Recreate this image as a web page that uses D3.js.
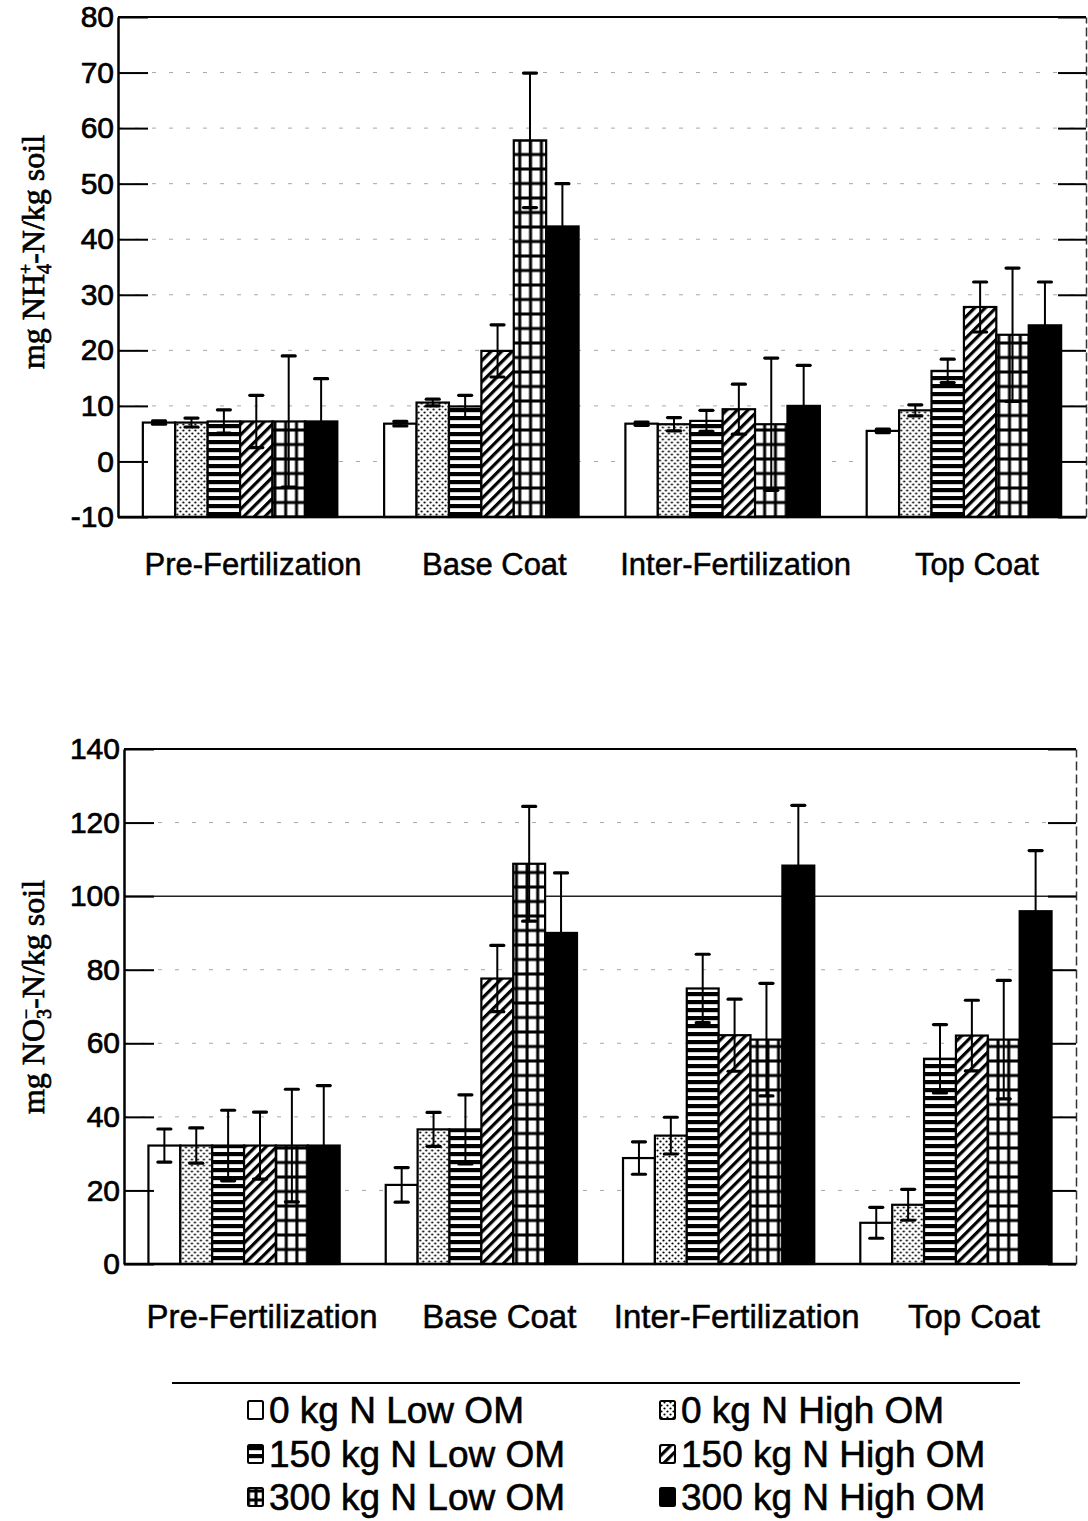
<!DOCTYPE html>
<html>
<head>
<meta charset="utf-8">
<script src="https://cdn.jsdelivr.net/npm/d3@7"></script>
<style>
  html, body { margin: 0; padding: 0; background: #fff; }
  svg { display: block; }
  text { font-family: "Liberation Sans", Arial, Helvetica, sans-serif; fill: #000; }
</style>
</head>
<body>
<svg id="chart" width="1088" height="1521"></svg>
<script>
// ---------------- DATA ----------------
const categories = ["Pre-Fertilization", "Base Coat", "Inter-Fertilization", "Top Coat"];
const seriesNames = ["0 kg N Low OM", "0 kg N High OM", "150 kg N Low OM",
                     "150 kg N High OM", "300 kg N Low OM", "300 kg N High OM"];

// NH4+-N (mg/kg soil): rows = categories, cols = series
const nh4Values = [
  [7.0, 7.0, 7.2, 7.2, 7.2, 7.2],
  [6.8, 10.6, 9.9, 19.9, 57.8, 42.3],
  [6.8, 6.7, 7.3, 9.4, 6.7, 10.0],
  [5.5, 9.2, 16.3, 27.8, 22.8, 24.5]
];
const nh4Errors = [
  [0.3, 0.8, 2.1, 4.7, 11.8, 7.7],
  [0.4, 0.6, 2.0, 4.7, 12.1, 7.7],
  [0.3, 1.2, 1.9, 4.5, 11.9, 7.3],
  [0.3, 1.0, 2.1, 4.5, 12.0, 7.8]
];
const nh4Ticks = [-10, 0, 10, 20, 30, 40, 50, 60, 70, 80];

// NO3--N (mg/kg soil)
const no3Values = [
  [32.2, 32.2, 32.2, 32.2, 32.2, 32.2],
  [21.5, 36.6, 36.6, 77.6, 108.8, 90.0],
  [28.8, 34.9, 74.9, 62.2, 61.0, 108.3],
  [11.2, 16.1, 55.8, 62.1, 61.0, 95.9]
];
const no3Errors = [
  [4.5, 4.8, 9.6, 9.1, 15.3, 16.3],
  [4.7, 4.6, 9.4, 9.0, 15.6, 16.3],
  [4.4, 5.0, 9.3, 9.8, 15.3, 16.4],
  [4.2, 4.2, 9.3, 9.6, 16.1, 16.5]
];
const no3Ticks = [0, 20, 40, 60, 80, 100, 120, 140];

// ---------------- DRAW ----------------
const svg = d3.select("#chart");
const defs = svg.append("defs");

const dots = defs.append("pattern").attr("id", "p-dots")
  .attr("patternUnits", "userSpaceOnUse").attr("width", 6).attr("height", 6);
dots.append("rect").attr("width", 6).attr("height", 6).attr("fill", "#fff");
dots.append("circle").attr("cx", 1.5).attr("cy", 1.5).attr("r", 1.1).attr("fill", "#000");
dots.append("circle").attr("cx", 4.5).attr("cy", 4.5).attr("r", 1.1).attr("fill", "#000");

const hor = defs.append("pattern").attr("id", "p-hor")
  .attr("patternUnits", "userSpaceOnUse").attr("width", 8).attr("height", 8);
hor.append("rect").attr("width", 8).attr("height", 8).attr("fill", "#fff");
hor.append("rect").attr("y", 0).attr("width", 8).attr("height", 4.2).attr("fill", "#000");

const diag = defs.append("pattern").attr("id", "p-diag")
  .attr("patternUnits", "userSpaceOnUse").attr("width", 7.5).attr("height", 7.5)
  .attr("patternTransform", "rotate(45)");
diag.append("rect").attr("width", 7.5).attr("height", 7.5).attr("fill", "#fff");
diag.append("rect").attr("x", 0).attr("width", 3.2).attr("height", 7.5).attr("fill", "#000");

function gridPattern(id, x0, y0, w, h) {
  const p = defs.append("pattern").attr("id", id)
    .attr("patternUnits", "userSpaceOnUse").attr("x", x0).attr("y", y0)
    .attr("width", w).attr("height", h);
  p.append("rect").attr("width", w).attr("height", h).attr("fill", "#000");
  p.append("rect").attr("x", 1.5).attr("y", 1.5).attr("width", w - 3).attr("height", h - 3).attr("fill", "#fff");
  return "url(#" + id + ")";
}

function fillFor(i, gridUrl) {
  return ["#fff", "url(#p-dots)", "url(#p-hor)", "url(#p-diag)", gridUrl, "#000"][i];
}

function drawChart(cfg) {
  const { id, left, right, top, bottom, values, errors, ticks, yDomain, tickFont,
          labelFont, labelY, labelShift, titleX, titleY, titleSize, titleParts, solidGrid } = cfg;
  const g = svg.append("g").attr("id", id);

  const x0 = d3.scaleBand().domain(categories).range([left, right])
    .paddingInner(0.194).paddingOuter(0.103);
  const x1 = d3.scaleBand().domain(d3.range(seriesNames.length)).range([0, x0.bandwidth()]).padding(0);
  const y = d3.scaleLinear().domain(yDomain).range([bottom, top]);

  // gridlines
  g.append("g").selectAll("line").data(ticks.filter(t => t !== yDomain[0] && t !== yDomain[1]))
    .join("line")
    .attr("x1", left).attr("x2", right)
    .attr("y1", d => y(d)).attr("y2", d => y(d))
    .attr("stroke", d => d === solidGrid ? "#222" : "#a8a8a8")
    .attr("stroke-width", d => d === solidGrid ? 1.5 : 1)
    .attr("stroke-dasharray", d => d === solidGrid ? null : "4,13");

  const gridUrls = categories.map((c, ci) =>
    gridPattern(id + "-grid-" + ci, x0(c) + x1(4), bottom, x1.bandwidth() / 3, 14.5));

  const groups = g.append("g").selectAll("g").data(categories).join("g")
    .attr("transform", d => `translate(${x0(d)},0)`);

  groups.selectAll("rect")
    .data((d, ci) => values[ci].map((v, si) => ({ v, si, ci })))
    .join("rect")
    .attr("x", d => x1(d.si))
    .attr("y", d => y(Math.max(0, d.v)))
    .attr("width", x1.bandwidth())
    .attr("height", d => y(yDomain[0]) - y(Math.max(0, d.v)))
    .attr("fill", d => fillFor(d.si, gridUrls[d.ci]))
    .attr("stroke", "#000").attr("stroke-width", 2.2);

  const eb = groups.selectAll("g.eb")
    .data((d, ci) => values[ci].map((v, si) => ({ v, e: errors[ci][si], si })))
    .join("g").attr("class", "eb")
    .attr("transform", d => `translate(${x1(d.si) + x1.bandwidth() / 2},0)`);
  eb.append("line")
    .attr("y1", d => y(d.v - d.e)).attr("y2", d => y(d.v + d.e))
    .attr("stroke", "#000").attr("stroke-width", 2);
  eb.append("line").attr("x1", -6.5).attr("x2", 6.5)
    .attr("y1", d => y(d.v + d.e)).attr("y2", d => y(d.v + d.e))
    .attr("stroke", "#000").attr("stroke-width", 3.2).attr("stroke-linecap", "round");
  eb.append("line").attr("x1", -6.5).attr("x2", 6.5)
    .attr("y1", d => y(d.v - d.e)).attr("y2", d => y(d.v - d.e))
    .attr("stroke", "#000").attr("stroke-width", 3.2).attr("stroke-linecap", "round");

  g.append("line").attr("x1", left).attr("x2", right).attr("y1", top).attr("y2", top)
    .attr("stroke", "#000").attr("stroke-width", 2);
  g.append("line").attr("x1", left).attr("x2", right).attr("y1", bottom).attr("y2", bottom)
    .attr("stroke", "#000").attr("stroke-width", 2.5);

  const ra = g.append("g").attr("transform", `translate(${right},0)`)
    .call(d3.axisRight(y).tickValues(ticks).tickSizeInner(-28).tickSizeOuter(0).tickFormat(""));
  ra.select(".domain").attr("stroke", "#333").attr("stroke-width", 1.5).attr("stroke-dasharray", "9,4");
  ra.selectAll(".tick line").attr("stroke", "#000").attr("stroke-width", 2);

  const la = g.append("g").attr("transform", `translate(${left},0)`)
    .call(d3.axisLeft(y).tickValues(ticks).tickSizeInner(-30).tickSizeOuter(0).tickPadding(4)
      .tickFormat(d => String(d)));
  la.select(".domain").attr("stroke", "#000").attr("stroke-width", 2.5);
  la.selectAll(".tick line").attr("stroke", "#000").attr("stroke-width", 2);
  la.selectAll(".tick text").attr("font-size", tickFont).attr("font-family", "'Liberation Sans', Arial, sans-serif")
    .attr("fill", "#000").attr("stroke", "#000").attr("stroke-width", 0.7);

  g.append("g").selectAll("text").data(categories).join("text")
    .attr("x", d => x0(d) + x0.bandwidth() / 2 + labelShift)
    .attr("y", labelY)
    .attr("text-anchor", "middle")
    .attr("font-size", labelFont)
    .attr("stroke", "#000").attr("stroke-width", 0.5)
    .text(d => d);

  const t = g.append("text")
    .attr("transform", `translate(${titleX},${titleY}) rotate(-90)`)
    .attr("text-anchor", "middle")
    .attr("font-size", titleSize)
    .style("font-family", "'Liberation Serif', 'Times New Roman', serif")
    .attr("stroke", "#000").attr("stroke-width", 0.7);
  titleParts.forEach(p => {
    const ts = t.append("tspan").text(p.t);
    if (p.size) ts.attr("font-size", p.size);
    if (p.dy) ts.attr("dy", p.dy);
    if (p.dx) ts.attr("dx", p.dx);
  });
}

drawChart({
  id: "nh4", left: 118, right: 1086, top: 17, bottom: 517,
  values: nh4Values, errors: nh4Errors, ticks: nh4Ticks, yDomain: [-10, 80],
  tickFont: 30, labelFont: 31, labelY: 575, labelShift: 13, titleX: 44, titleY: 252, titleSize: 32,
  titleParts: [
    { t: "mg NH" },
    { t: "4", size: 20, dy: 7 },
    { t: "+", size: 18, dy: -19, dx: -10 },
    { t: "-N/kg soil", dy: 12 }
  ],
  solidGrid: null
});

drawChart({
  id: "no3", left: 124, right: 1076, top: 749, bottom: 1264,
  values: no3Values, errors: no3Errors, ticks: no3Ticks, yDomain: [0, 140],
  tickFont: 30, labelFont: 33, labelY: 1328, labelShift: 18, titleX: 44, titleY: 997, titleSize: 32,
  titleParts: [
    { t: "mg NO" },
    { t: "3", size: 20, dy: 7 },
    { t: "−", size: 18, dy: -19, dx: -10 },
    { t: "-N/kg soil", dy: 12 }
  ],
  solidGrid: 100
});

// ---------------- LEGEND ----------------
const leg = svg.append("g").attr("id", "legend");
leg.append("line").attr("x1", 172).attr("x2", 1020).attr("y1", 1383).attr("y2", 1383)
  .attr("stroke", "#000").attr("stroke-width", 2);

const legCols = [248, 660];
const legRows = [1410, 1454, 1497];
const legGridUrl = gridPattern("leg-grid", 248, legRows[2] - 9, 7.5, 9);
const legItems = seriesNames.map((name, i) => ({
  name, i, x: legCols[i % 2], y: legRows[Math.floor(i / 2)]
}));
const li = leg.selectAll("g").data(legItems).join("g")
  .attr("transform", d => `translate(${d.x},${d.y})`);
li.append("rect").attr("x", 0).attr("y", -9).attr("width", 15).attr("height", 18)
  .attr("rx", 1.5)
  .attr("fill", d => fillFor(d.i, legGridUrl))
  .attr("stroke", "#000").attr("stroke-width", 2);
li.append("text").attr("x", 21).attr("y", 13)
  .attr("font-size", 37)
  .attr("stroke", "#000").attr("stroke-width", 0.6)
  .text(d => d.name);
</script>
</body>
</html>
